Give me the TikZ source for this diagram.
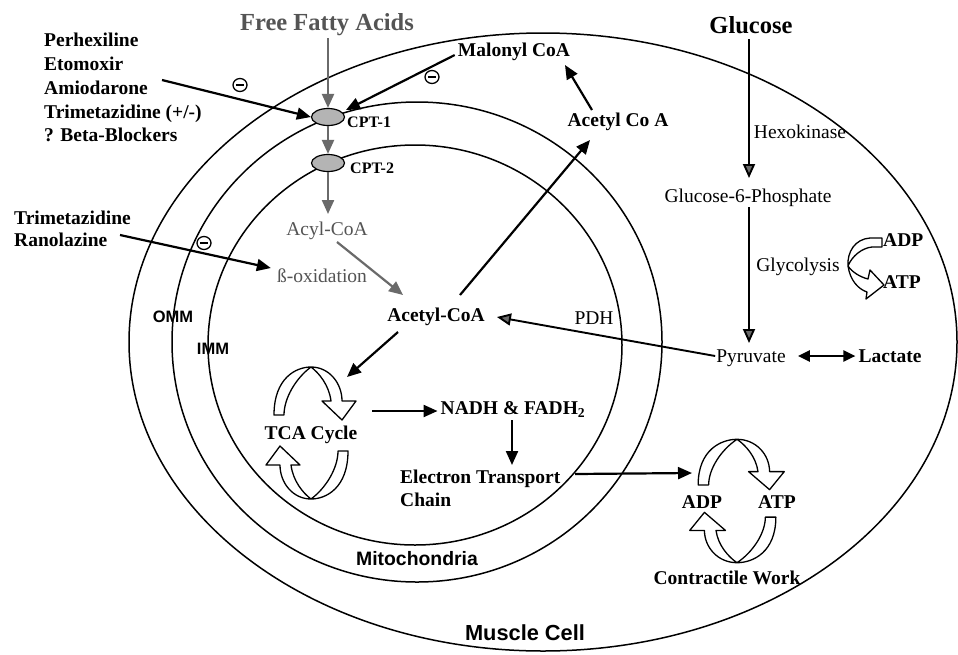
\documentclass[tikz,border=0pt]{standalone}
\usepackage{fontspec}
\setmainfont{Liberation Serif}
\newfontfamily\sanslab{Liberation Sans}
\usetikzlibrary{arrows.meta,calc,shapes.geometric}
\definecolor{dgray}{HTML}{6A6A6A}
\definecolor{tgray}{HTML}{545454}
\definecolor{cptfill}{HTML}{B4B4B4}
\begin{document}
\begin{tikzpicture}[x=1pt,y=-1pt,
  body/.style={font=\fontsize{19.5}{22}\selectfont, inner sep=0pt, text height=13pt, text depth=0pt},
  bbody/.style={body, font=\fontsize{19.5}{22}\selectfont\bfseries},
  head/.style={font=\fontsize{24.5}{28}\selectfont\bfseries, inner sep=0pt, text height=16pt, text depth=0pt},
  cptlab/.style={font=\fontsize{16}{18}\selectfont\bfseries, inner sep=0pt, text height=11pt, text depth=0pt},
  slab/.style={font=\fontsize{16.5}{18}\selectfont\sanslab\bfseries, inner sep=0pt, text height=12pt, text depth=0pt},
  slabbig/.style={font=\fontsize{19.4}{22}\selectfont\sanslab\bfseries, inner sep=0pt, text height=14pt, text depth=0pt},
  slabhuge/.style={font=\fontsize{21.8}{24}\selectfont\sanslab\bfseries, inner sep=0pt, text height=15.5pt, text depth=0pt},
  memb/.style={line width=1.5pt},
  cpt/.style={ellipse, draw, line width=1.2pt, fill=cptfill, minimum width=33pt, minimum height=17pt, inner sep=0pt},
  arr/.style={line width=2.2pt, -{Triangle[length=14pt,width=12pt]}},
  garr/.style={line width=2.2pt, draw=dgray, -{Triangle[length=14pt,width=12pt,fill=dgray]}},
  darr/.style={line width=1.9pt, -{Triangle[length=14pt,width=12pt,fill=dgray]}},
  parr/.style={line width=1.9pt, -{Triangle[length=14pt,width=12pt,fill=dgray]}},
  barr/.style={line width=2.2pt, {Triangle[length=12pt,width=11pt]}-{Triangle[length=12pt,width=11pt]}},
  inhib/.style={ellipse, draw, line width=1.3pt, minimum width=14pt, minimum height=13pt, inner sep=0pt,
    path picture={\fill ([xshift=-4.2pt,yshift=-1.3pt]path picture bounding box.center) rectangle ([xshift=4.2pt,yshift=1.3pt]path picture bounding box.center);}},
  hollow/.style={line width=1.3pt, fill=white, line join=round},
  cyc/.pic={\draw[hollow] (-37,-18) .. controls (-37,-55) and (-15,-66) .. (0,-66)
      .. controls (18,-66) and (31,-50) .. (31,-32) -- (45,-32) -- (31,-13) -- (11,-32) -- (20,-32)
      .. controls (18,-48) and (8,-60) .. (0,-66)
      .. controls (-15,-55) and (-27,-35) .. (-27,-18) -- cycle;}
]
\useasboundingbox (0,0) rectangle (958,654);
\fill[white] (0,0) rectangle (958,654);

% membranes
\draw[memb] (543,342) ellipse [x radius=414pt, y radius=309pt];
\draw[memb] (417,342) ellipse [x radius=245pt, y radius=240pt];
\draw[memb] (415,345) ellipse [x radius=207pt, y radius=200pt];

% transporters
\node[cpt] (cpt1) at (328,117) {};
\node[cpt] (cpt2) at (328,163) {};
\node[cptlab, anchor=west] (cpt1lab) at (347,122) {CPT-1};
\node[cptlab, anchor=west] (cpt2lab) at (350,168) {CPT-2};

% texts
\node[head, text=tgray] (ffa) at (327,22) {Free Fatty Acids};
\node[bbody] (malonyl) at (514,50) {Malonyl CoA};
\node[bbody, anchor=west] (drug1) at (44,40) {Perhexiline};
\node[bbody, anchor=west] (drug2) at (44,64) {Etomoxir};
\node[bbody, anchor=west] (drug3) at (44,88) {Amiodarone};
\node[bbody, anchor=west] (drug4) at (44,112) {Trimetazidine (+/-)};
\node[bbody, anchor=west] (drug5) at (44,135) {? Beta-Blockers};
\node[bbody, anchor=west] (tri1) at (14,218) {Trimetazidine};
\node[bbody, anchor=west] (tri2) at (14,240) {Ranolazine};
\node[body, text=tgray] (acyl) at (327,229) {Acyl-CoA};
\node[body, text=tgray] (betaox) at (322,276) {ß-oxidation};
\node[bbody] (acetyl) at (436,315) {Acetyl-CoA};
\node[bbody] (acetylca) at (618,120) {Acetyl Co A};
\node[head] (glucose) at (751,25) {Glucose};
\node[body] (hexo) at (800,132) {Hexokinase};
\node[body] (g6p) at (748,196) {Glucose-6-Phosphate};
\node[body] (glyco) at (798,265) {Glycolysis};
\node[body] (pdh) at (594,318) {PDH};
\node[body] (pyr) at (751,356) {Pyruvate};
\node[bbody] (lactate) at (890,356) {Lactate};
\node[bbody, anchor=west] (gadp) at (883,240) {ADP};
\node[bbody, anchor=west] (gatp) at (883,282) {ATP};
\node[bbody] (tca) at (311,433) {TCA Cycle};
\node[bbody] (nadh) at (513,408) {NADH \& FADH\textsubscript{2}};
\node[bbody, anchor=west] (etc1) at (400,477) {Electron Transport};
\node[bbody, anchor=west] (etc2) at (400,500) {Chain};
\node[bbody] (cadp) at (702,502) {ADP};
\node[bbody] (catp) at (777,502) {ATP};
\node[bbody] (work) at (727,578) {Contractile Work};
\node[slab] (omm) at (173,316) {OMM};
\node[slab] (imm) at (213,348) {IMM};
\node[slabbig] (mito) at (417,558) {Mitochondria};
\node[slabhuge] (cell) at (525,633) {Muscle Cell};

% inhibition marks
\node[inhib] (inh1) at (240,85) {};
\node[inhib] (inh2) at (432,77) {};
\node[inhib] (inh3) at (204,243) {};

% cycle arrows
\pic at (311,433) {cyc};
\pic[rotate=180] at (311,433) {cyc};
\pic[xscale=1.05, yscale=0.95] at (737,502) {cyc};
\pic[rotate=180, xscale=1.05, yscale=0.95] at (737,500) {cyc};

% glycolysis ADP -> ATP
\draw[hollow] (882,238) -- (870,238) .. controls (855,239) and (847,252) .. (848,266)
  .. controls (850,280) and (858,289) .. (867,292) -- (866,299) -- (884,285) -- (870,270) -- (868,279)
  .. controls (860,277) and (852,272) .. (848,266)
  .. controls (852,256) and (862,248) .. (872,247) -- (882,247) -- cycle;

% free ends
\coordinate (drugtail) at (162,80);
\coordinate (tritail) at (120,235);
\coordinate (etctail) at (575,474);

% fatty acid path
\draw[garr] ($(ffa)+(1,16)$) -- (cpt1.north);
\draw[garr] (cpt1.south) -- (cpt2.north);
\draw[garr] (cpt2.south) -- ($(acyl)+(1,-15)$);
\draw[garr] ($(acyl)+(10,13)$) -- ($(acetyl)+(-33,-20)$);

% inhibitors
\draw[arr] (drugtail) -- (cpt1.west);
\draw[arr] ($(malonyl.west)+(-3,5)$) -- ($(cpt1)+(18,-7)$);
\draw[arr] (tritail) -- ($(betaox.west)+(-6,-8)$);

% acetyl-CoA
\draw[arr] ($(acetyl)+(24,-20)$) -- ($(acetylca)+(-28,20)$);
\draw[arr] ($(acetylca)+(-26,-10)$) -- ($(malonyl)+(51,15)$);
\draw[parr] ($(pyr.west)+(-1,0)$) -- ($(acetyl.east)+(12,2)$);
\draw[arr] ($(acetyl)+(-38,17)$) -- ($(tca)+(36,-56)$);
\draw[arr] ($(tca)+(61,-22)$) -- ($(nadh.west)+(-3,3)$);
\draw[arr] ($(nadh)+(-1,12)$) -- ($(nadh)+(-1,57)$);
\draw[arr] (etctail) -- ($(cadp)+(-10,-29)$);

% glucose path
\draw[darr] ($(glucose)+(-2,14)$) -- ($(g6p)+(1,-18)$);
\draw[darr] ($(g6p)+(1,11)$) -- ($(pyr)+(-2,-13)$);
\draw[barr] ($(pyr.east)+(12,0)$) -- ($(lactate.west)+(-3,0)$);
\end{tikzpicture}
\end{document}
